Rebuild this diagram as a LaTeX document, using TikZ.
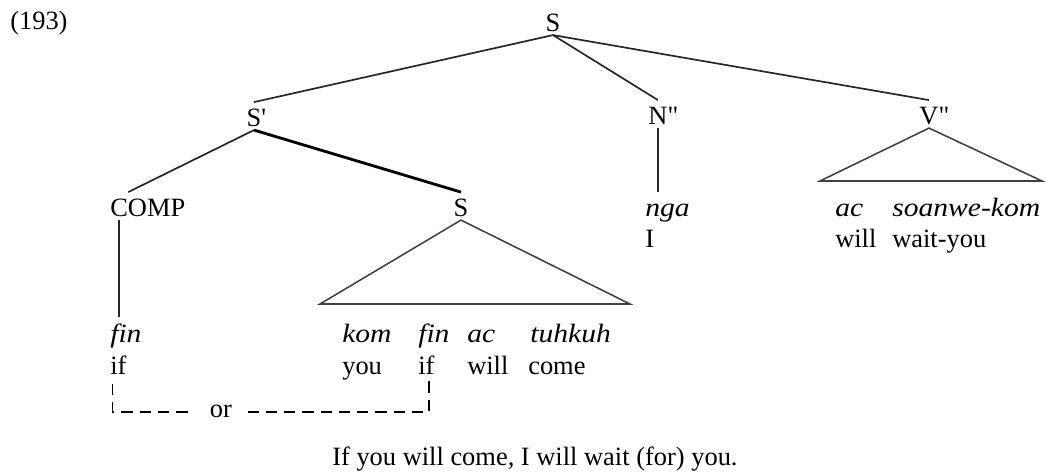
\documentclass[tikz,border=0pt]{standalone}
\usepackage{fontspec}
\setmainfont{Liberation Serif}
\newfontfamily\objfont{Liberation Serif}[FakeStretch=1.12]
\usetikzlibrary{positioning}

\begin{document}
\begin{tikzpicture}[
    x=0.025cm, y=-0.025cm,
    every node/.style={font=\fontsize{18.8}{22}\selectfont, inner sep=0pt, text height=17.5pt, text depth=2pt},
    word/.style={anchor=base west},
    cat/.style={anchor=base},
    obj/.style={word, font=\fontsize{18.8}{22}\selectfont\objfont\itshape},
    branch/.style={line width=1.2pt, black!85},
    heavy/.style={line width=2pt, black},
    roof/.style={line width=1.1pt, black!75},
    orline/.style={line width=0.9pt, dash pattern=on 8pt off 5pt}
  ]
    \useasboundingbox (0,0) rectangle (1046,472);

    % Number
    \node[word] (num) at (10,30) {(193)};

    % Categories
    \node[cat] (s) at (553,32) {S};
    \node[cat] (sbar) at (254,127) {S\rlap{\textquotesingle}};
    \node[cat] (nbar) at (658,125) {N\rlap{\textquotedbl}};
    \node[cat] (vbar) at (929,125) {V\rlap{\textquotedbl}};
    \node[word] (comp) at (110,217) {C\rlap{OMP}};
    \node[cat] (ssub) at (461,217) {S};

    % Words and glosses
    \node[obj] (fin1) at (110,342) {fin};
    \node[word] (if1) at (110,374) {if};
    \node[obj] (kom) at (342,342) {kom};
    \node[word] (you) at (342,374) {you};
    \node[obj] (fin2) at (418,342) {fin};
    \node[word] (if2) at (418,374) {if};
    \node[obj] (ac1) at (467,342) {ac};
    \node[word] (will1) at (467,374) {will};
    \node[obj] (tuhkuh) at (530,342) {tuhkuh};
    \node[word] (come) at (528,374) {come};
    \node[obj] (nga) at (645,217) {nga};
    \node[word] (i) at (645,248) {I};
    \node[obj] (ac2) at (835,217) {ac};
    \node[word] (will2) at (835,247) {will};
    \node[obj] (soanwe) at (892,217) {soanwe-kom};
    \node[word] (wait) at (892,247) {wait-you};
    \node[cat, text height=7pt, text depth=0pt, inner xsep=11pt] (or) at (221,417) {or};

    % Translation
    \node[word] (transl) at (332,465) {If you will come, I will wait (for) you.};

    % Branches
    \draw[branch] (s.south) -- (sbar.north);
    \draw[branch] (s.south) -- (nbar.north);
    \draw[branch] (s.south) -- (vbar.north);
    \draw[branch] (sbar.south) -- (comp.north east);
    \draw[heavy] (sbar.south) -- (ssub.north);
    \draw[branch] (comp.south) -- (comp.south |- fin1.north);
    \draw[branch] (nbar.south) -- (nbar.south |- nga.north);

    % Roofs
    \coordinate (sl) at (320,304);
    \coordinate (sr) at (630,304);
    \draw[roof] (ssub.south) -- (sl) -- (sr) -- cycle;
    \coordinate (vl) at (820,181);
    \coordinate (vr) at (1042,181);
    \draw[roof] (vbar.south) -- (vl) -- (vr) -- cycle;

    % or
    \draw[orline] ([xshift=2pt, yshift=-5pt]if1.south west) |- (or.west);
    \draw[orline] ([xshift=-4pt, yshift=-3pt]if2.south east) |- (or.east);
\end{tikzpicture}
\end{document}
